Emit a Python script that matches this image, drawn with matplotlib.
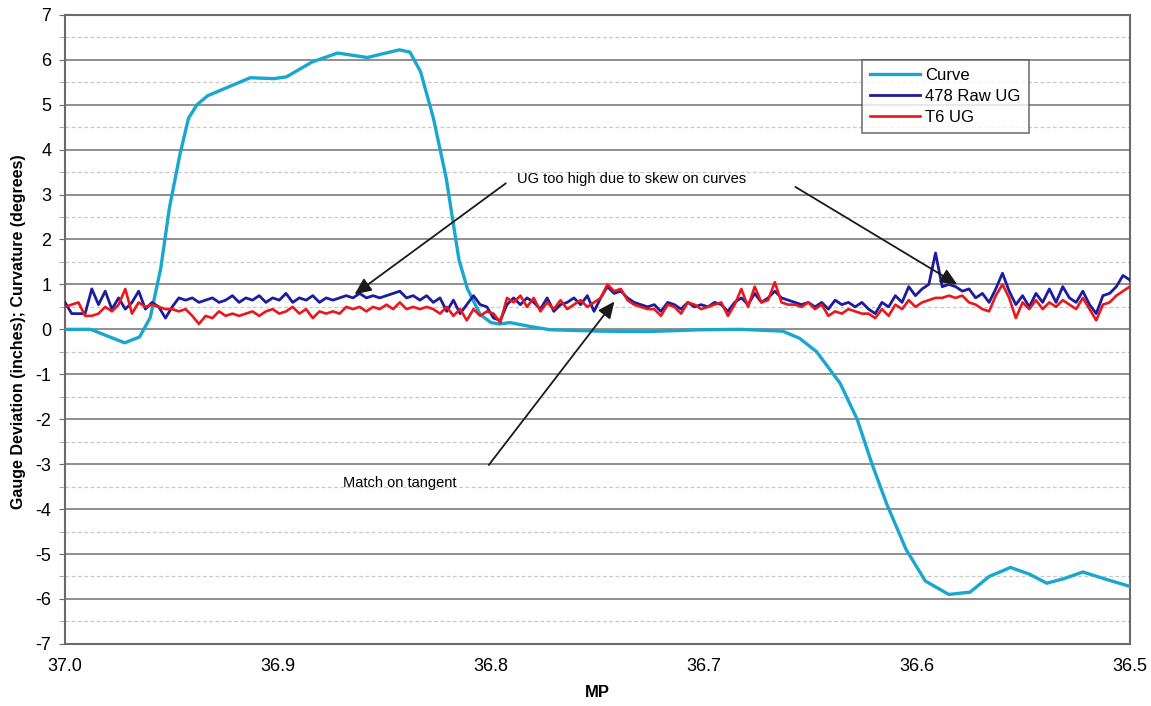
import numpy as np
import matplotlib
matplotlib.use("Agg")
import matplotlib.pyplot as plt
from matplotlib.ticker import MultipleLocator, FormatStrFormatter

plt.rcParams['font.family'] = ['Liberation Sans', 'DejaVu Sans']
plt.rcParams['axes.unicode_minus'] = False

# Curve (degrees) along the milepost
curve_mp = [37.000, 36.988, 36.972, 36.965, 36.960, 36.955, 36.951, 36.946, 36.942, 36.938,
            36.933, 36.923, 36.913, 36.902, 36.896, 36.884, 36.872, 36.865, 36.858, 36.852,
            36.843, 36.838, 36.833, 36.827, 36.821, 36.815, 36.811, 36.805, 36.800, 36.796,
            36.791, 36.780, 36.772, 36.749, 36.727, 36.702, 36.683, 36.663, 36.655, 36.647,
            36.636, 36.628, 36.621, 36.614, 36.605, 36.596, 36.585, 36.575, 36.566, 36.556,
            36.547, 36.539, 36.531, 36.522, 36.512, 36.500]
curve_deg = [0.00, 0.00, -0.30, -0.17, 0.26, 1.37, 2.70, 3.90, 4.70, 5.00,
             5.20, 5.40, 5.60, 5.58, 5.62, 5.95, 6.15, 6.10, 6.05, 6.12,
             6.22, 6.17, 5.73, 4.70, 3.37, 1.55, 0.90, 0.33, 0.15, 0.12,
             0.15, 0.05, -0.01, -0.04, -0.05, -0.01, 0.00, -0.04, -0.20, -0.50,
             -1.20, -2.00, -3.00, -3.90, -4.90, -5.60, -5.90, -5.85, -5.50, -5.30,
             -5.45, -5.65, -5.55, -5.40, -5.55, -5.72]

# Unbalance gauge readings, evenly sampled from MP 37.0 to 36.5
raw_ug = [0.60, 0.35, 0.35, 0.35, 0.90, 0.55, 0.85, 0.45, 0.70, 0.45,
          0.60, 0.85, 0.45, 0.60, 0.50, 0.25, 0.50, 0.70, 0.65, 0.70,
          0.60, 0.65, 0.70, 0.60, 0.65, 0.75, 0.60, 0.70, 0.65, 0.75,
          0.60, 0.70, 0.65, 0.80, 0.60, 0.70, 0.65, 0.75, 0.60, 0.70,
          0.65, 0.70, 0.75, 0.70, 0.80, 0.70, 0.75, 0.70, 0.75, 0.80,
          0.85, 0.70, 0.75, 0.65, 0.75, 0.60, 0.70, 0.40, 0.65, 0.35,
          0.55, 0.75, 0.55, 0.50, 0.25, 0.20, 0.55, 0.70, 0.55, 0.70,
          0.60, 0.45, 0.70, 0.40, 0.55, 0.60, 0.70, 0.55, 0.75, 0.40,
          0.70, 0.95, 0.80, 0.85, 0.70, 0.60, 0.55, 0.50, 0.55, 0.40,
          0.60, 0.55, 0.45, 0.60, 0.50, 0.55, 0.50, 0.60, 0.55, 0.40,
          0.60, 0.70, 0.55, 0.80, 0.60, 0.70, 0.85, 0.70, 0.65, 0.60,
          0.55, 0.60, 0.50, 0.60, 0.45, 0.65, 0.55, 0.60, 0.50, 0.60,
          0.45, 0.35, 0.60, 0.50, 0.75, 0.60, 0.95, 0.75, 0.90, 1.00,
          1.70, 0.95, 1.00, 0.95, 0.85, 0.90, 0.70, 0.80, 0.60, 0.90,
          1.25, 0.85, 0.55, 0.75, 0.50, 0.80, 0.60, 0.90, 0.60, 0.95,
          0.70, 0.60, 0.85, 0.55, 0.35, 0.75, 0.80, 0.95, 1.20, 1.10]
t6_ug = [0.50, 0.55, 0.60, 0.30, 0.30, 0.35, 0.50, 0.40, 0.55, 0.90,
         0.35, 0.60, 0.50, 0.55, 0.50, 0.45, 0.45, 0.40, 0.45, 0.30,
         0.12, 0.30, 0.25, 0.40, 0.30, 0.35, 0.30, 0.35, 0.40, 0.30,
         0.40, 0.45, 0.35, 0.40, 0.50, 0.35, 0.45, 0.25, 0.40, 0.35,
         0.40, 0.35, 0.50, 0.45, 0.50, 0.40, 0.50, 0.45, 0.55, 0.45,
         0.60, 0.45, 0.50, 0.45, 0.50, 0.45, 0.35, 0.50, 0.30, 0.45,
         0.20, 0.45, 0.30, 0.40, 0.35, 0.15, 0.70, 0.60, 0.75, 0.50,
         0.70, 0.40, 0.60, 0.45, 0.65, 0.45, 0.55, 0.65, 0.50, 0.60,
         0.70, 1.00, 0.85, 0.90, 0.65, 0.55, 0.50, 0.45, 0.45, 0.30,
         0.55, 0.50, 0.35, 0.60, 0.55, 0.45, 0.50, 0.55, 0.60, 0.30,
         0.55, 0.90, 0.50, 0.95, 0.60, 0.65, 1.05, 0.60, 0.55, 0.55,
         0.50, 0.60, 0.45, 0.55, 0.30, 0.40, 0.35, 0.45, 0.40, 0.35,
         0.35, 0.25, 0.45, 0.30, 0.55, 0.45, 0.65, 0.50, 0.60, 0.65,
         0.70, 0.70, 0.75, 0.70, 0.75, 0.60, 0.55, 0.45, 0.40, 0.75,
         1.00, 0.70, 0.25, 0.60, 0.45, 0.65, 0.45, 0.60, 0.50, 0.65,
         0.55, 0.45, 0.70, 0.45, 0.20, 0.55, 0.60, 0.75, 0.85, 0.95]
ug_mp = np.linspace(37.0, 36.5, len(raw_ug))

y_ticks = list(range(-7, 8))
x_ticks = [37.0, 36.9, 36.8, 36.7, 36.6, 36.5]

fig = plt.figure(figsize=(11.51, 7.06), dpi=100)
ax = fig.add_axes([0.0565, 0.088, 0.925, 0.891])

ax.plot(curve_mp, curve_deg, color='#1aa7cf', lw=2.4, label='Curve', zorder=3)
ax.plot(ug_mp, raw_ug, color='#1c1c9c', lw=2.0, label='478 Raw UG', zorder=4)
ax.plot(ug_mp, t6_ug, color='#e8181c', lw=1.9, label='T6 UG', zorder=5)

ax.set_xlim(37.0, 36.5)
ax.set_ylim(-7, 7)
ax.set_xticks(x_ticks)
ax.xaxis.set_major_formatter(FormatStrFormatter('%.1f'))
ax.set_yticks(y_ticks)
ax.yaxis.set_minor_locator(MultipleLocator(0.5))

ax.grid(which='major', axis='y', color='#8a8585', lw=1.3, zorder=1)
ax.grid(which='minor', axis='y', color='#c8c8c8', lw=0.9, ls=(0, (3, 2)), zorder=1)
for side in ax.spines.values():
    side.set_color('#6e6868')
    side.set_linewidth(1.5)

ax.tick_params(axis='y', which='major', labelsize=13, length=4, color='#6e6868', pad=6)
ax.tick_params(axis='y', which='minor', length=4, color='#9a9a9a')
ax.tick_params(axis='x', labelsize=13, length=0, pad=10)

# Axis titles placed on the figure
fig.text(0.519, 0.008, 'MP', fontsize=12, fontweight='bold', ha='center', va='bottom')
fig.text(0.016, 0.53, 'Gauge Deviation (inches); Curvature (degrees)', fontsize=11.5,
         fontweight='bold', rotation=90, ha='center', va='center')

# Annotations with arrows
arrow = dict(arrowstyle='-|>,head_length=1.0,head_width=0.45', color='#1a1a1a', lw=1.3,
             shrinkA=0, shrinkB=0)
ax.text(36.734, 3.34, 'UG too high due to skew on curves', fontsize=10.5,
        ha='center', va='center', zorder=6)
ax.annotate('', xy=(36.864, 0.78), xytext=(36.793, 3.25), arrowprops=arrow, zorder=6)
ax.annotate('', xy=(36.581, 1.0), xytext=(36.657, 3.17), arrowprops=arrow, zorder=6)
ax.text(36.843, -3.41, 'Match on tangent', fontsize=10.5, ha='center', va='center', zorder=6)
ax.annotate('', xy=(36.742, 0.62), xytext=(36.801, -3.02), arrowprops=arrow, zorder=6)

leg = ax.legend(loc='upper right', bbox_to_anchor=(0.913, 0.942), fontsize=12,
                frameon=True, fancybox=False, handlelength=3.0, borderpad=0.5,
                labelspacing=0.35, handletextpad=0.3)
leg.get_frame().set_edgecolor('#555050')
leg.get_frame().set_linewidth(1.2)

fig.savefig('out.png', dpi=100)
